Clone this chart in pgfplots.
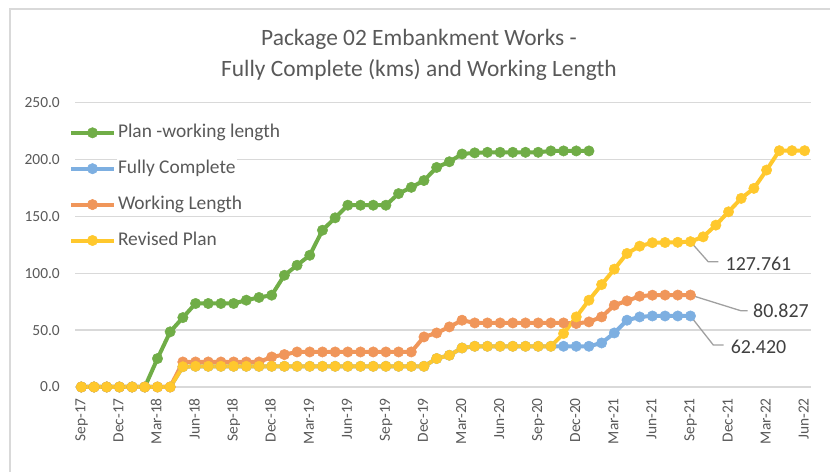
\documentclass[border=0pt]{standalone}
\usepackage{pgfplots}
\pgfplotsset{compat=1.18}
\usepackage{fontspec}
\setmainfont{Carlito}
\definecolor{cgreen}{RGB}{112,173,71}
\definecolor{cblue}{RGB}{125,175,225}
\definecolor{corange}{RGB}{240,150,90}
\definecolor{cyellow}{RGB}{255,200,45}
\definecolor{gridgray}{RGB}{217,217,217}
\definecolor{txtgray}{RGB}{89,89,89}
\definecolor{lblgray}{RGB}{64,64,64}
\definecolor{leadgray}{RGB}{160,160,160}

\pgfplotstableread{
i v
0 0
1 0
2 0
3 0
4 0
5 0
6 25
7 48.5
8 61
9 73.4
10 73.4
11 73.4
12 73.4
13 76.3
14 78.7
15 80.7
16 98.2
17 107
18 115.8
19 137.8
20 148.7
21 159.8
22 159.8
23 159.8
24 159.8
25 170
26 175.5
27 181.5
28 193
29 198
30 204.8
31 205.8
32 206.3
33 206.3
34 206.3
35 206.3
36 206.3
37 207.5
38 207.5
39 207.5
40 207.5
}\plandata

\pgfplotstableread{
i v
0 0
1 0
2 0
3 0
4 0
5 0
6 0
7 0
8 17.8
9 18.2
10 18.2
11 18.2
12 18.2
13 18.2
14 18.2
15 18.2
16 18.2
17 18.2
18 18.2
19 18.2
20 18.2
21 18.2
22 18.2
23 18.2
24 18.2
25 18.2
26 18.2
27 18.2
28 25
29 27.9
30 34.3
31 35.8
32 35.8
33 35.8
34 35.8
35 35.8
36 35.8
37 35.8
38 35.8
39 35.8
40 35.8
41 38.7
42 47.5
43 58.7
44 61.6
45 62.42
46 62.42
47 62.42
48 62.42
}\fulldata

\pgfplotstableread{
i v
0 0
1 0
2 0
3 0
4 0
5 0
6 0
7 0
8 22
9 22
10 22
11 22
12 22
13 22
14 22
15 26.4
16 28.5
17 30.8
18 30.8
19 30.8
20 30.8
21 30.8
22 30.8
23 30.8
24 30.8
25 30.8
26 30.8
27 44
28 47.5
29 52.8
30 58.7
31 56.3
32 56.3
33 56.3
34 56.3
35 56.3
36 56.3
37 56.3
38 56.3
39 55.8
40 57.2
41 61.6
42 71.9
43 75.7
44 79.8
45 80.7
46 80.8
47 80.8
48 80.827
}\workdata

\pgfplotstableread{
i v
0 0
1 0
2 0
3 0
4 0
5 0
6 0
7 0
8 17.8
9 18.2
10 18.2
11 18.2
12 18.2
13 18.2
14 18.2
15 18.2
16 18.2
17 18.2
18 18.2
19 18.2
20 18.2
21 18.2
22 18.2
23 18.2
24 18.2
25 18.2
26 18.2
27 18.2
28 25
29 27.9
30 34.3
31 35.8
32 35.8
33 35.8
34 35.8
35 35.8
36 35.8
37 35.8
38 47
39 61.6
40 76.3
41 90
42 103.6
43 117.4
44 123.8
45 126.8
46 127
47 127.2
48 127.761
49 132
50 142.3
51 154
52 165.8
53 174.6
54 190.7
55 207.7
56 207.7
57 207.7
}\reviseddata

\begin{document}
\begin{tikzpicture}[x=1bp,y=1bp]
\path[use as bounding box] (0,0) rectangle (830,472);
\draw[gridgray, line width=1.5bp] (10,-5) -- (10,463) -- (840,463);
\node[anchor=base, text=txtgray, font=\fontsize{23.5}{28}\selectfont, inner sep=0pt] at (419,426) {Package 02 Embankment Works -};
\node[anchor=base, text=txtgray, font=\fontsize{23.5}{28}\selectfont, inner sep=0pt] at (419,395) {Fully Complete (kms) and Working Length};
\begin{axis}[
  at={(75bp,85bp)}, anchor=south west,
  scale only axis, width=736bp, height=284.4bp,
  xmin=-0.5, xmax=57.5, ymin=0, ymax=250,
  clip=false,
  axis line style={draw=none},
  major tick length=0pt,
  ymajorgrids,
  major grid style={draw=gridgray, line width=1.3bp},
  ytick={0,50,...,250},
  xtick={0,3,...,57},
  xticklabels={Sep-17,Dec-17,Mar-18,Jun-18,Sep-18,Dec-18,Mar-19,Jun-19,Sep-19,Dec-19,Mar-20,Jun-20,Sep-20,Dec-20,Mar-21,Jun-21,Sep-21,Dec-21,Mar-22,Jun-22},
  /pgf/number format/.cd, fixed, fixed zerofill, precision=1, assume math mode=true, /pgfplots/.cd,
  yticklabel style={anchor=east, inner sep=0pt, text=txtgray, font=\fontsize{15.5}{18}\selectfont},
  yticklabel shift=15bp,
  xticklabel style={rotate=90, anchor=east, inner sep=0pt, text=txtgray, font=\fontsize{15.5}{18}\selectfont, text height=11bp, text depth=3bp},
  xticklabel shift=11bp,
  every axis plot/.append style={line width=4bp, mark=*, mark size=5.2bp},
  legend image code/.code={\draw[mark repeat=2,mark phase=2,#1] plot coordinates {(0bp,0bp) (21.5bp,0bp) (43bp,0bp)};},
  legend cell align=left,
  legend style={at={(-0.00815,0.9307)}, anchor=north west, draw=none, fill=none, inner sep=0pt, outer sep=0pt,
    row sep=14.9bp, column sep=1bp, text=txtgray, font=\fontsize{19.5}{22}\selectfont,
    nodes={fill=white, inner sep=1bp, text height=14bp, text depth=5bp}},
]
\draw[leadgray, line width=1.3bp] (axis cs:48,127.761) -- (axis cs:49.4,110.1) -- (axis cs:50.2,110.1);
\draw[leadgray, line width=1.3bp] (axis cs:48,80.827) -- (axis cs:51.96,67.07) -- (axis cs:52.5,67.07);
\draw[leadgray, line width=1.3bp] (axis cs:48,62.42) -- (axis cs:49.8,36.9) -- (axis cs:50.62,36.9);
\addplot[cgreen, mark options={fill=cgreen, draw=cgreen, line width=0.5bp}] table[x=i, y=v] {\plandata};
\addlegendentry{Plan -working length}
\addplot[cblue, mark options={fill=cblue, draw=cblue, line width=0.5bp}] table[x=i, y=v] {\fulldata};
\addlegendentry{Fully Complete}
\addplot[corange, mark options={fill=corange, draw=corange, line width=0.5bp}] table[x=i, y=v] {\workdata};
\addlegendentry{Working Length}
\addplot[cyellow, mark options={fill=cyellow, draw=cyellow, line width=0.5bp}] table[x=i, y=v] {\reviseddata};
\addlegendentry{Revised Plan}
\node[anchor=west, inner sep=0pt, text=lblgray, font=\fontsize{20}{24}\selectfont] at (axis cs:50.76,108.1) {127.761};
\node[anchor=west, inner sep=0pt, text=lblgray, font=\fontsize{20}{24}\selectfont] at (axis cs:52.93,67.07) {80.827};
\node[anchor=west, inner sep=0pt, text=lblgray, font=\fontsize{20}{24}\selectfont] at (axis cs:51.16,35.2) {62.420};
\end{axis}
\end{tikzpicture}
\end{document}
